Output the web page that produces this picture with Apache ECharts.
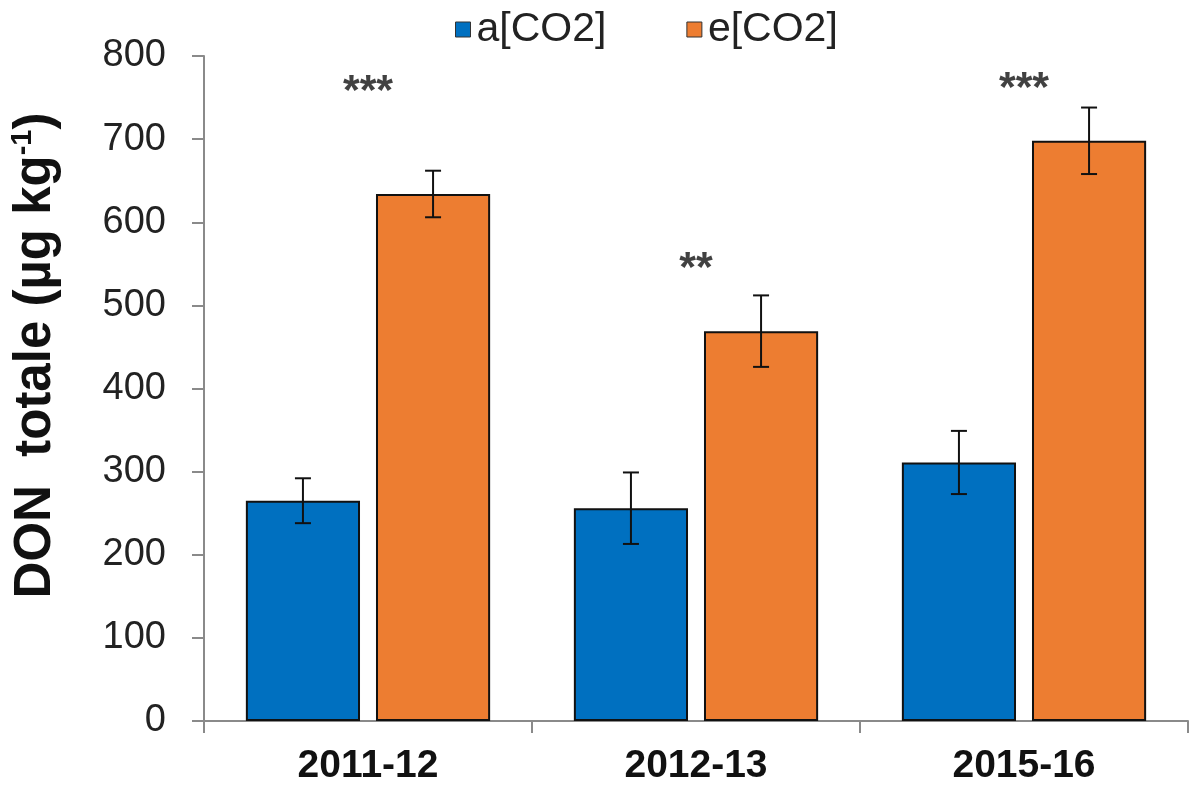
<!DOCTYPE html>
<html>
<head>
<meta charset="utf-8">
<script src="https://cdn.jsdelivr.net/npm/echarts@6/dist/echarts.min.js"></script>
<style>
  html, body { margin: 0; padding: 0; background: #ffffff; }
  #chart { width: 1192px; height: 795px; }
</style>
</head>
<body>
<div id="chart"></div>
<script>
// DON totale per season under ambient and elevated CO2
const categories = ['2011-12', '2012-13', '2015-16'];
const seriesNames = ['a[CO2]', 'e[CO2]'];
const ambientMean = [265, 256, 311];
const ambientErr = [27, 43, 38];
const elevatedMean = [634, 469, 698];
const elevatedErr = [28, 43, 40];
const significance = ['***', '**', '***'];
const significanceY = [757, 544, 760];
const yTicks = [0, 100, 200, 300, 400, 500, 600, 700, 800];

const BLUE = '#0070C0';
const ORANGE = '#ED7D31';
const FONT = '"Liberation Sans", Arial, sans-serif';

const chart = echarts.init(document.getElementById('chart'), null, { renderer: 'canvas' });

const BAR_FRACTION = 0.348;
const GAP_FRACTION = 0.14;

// error bar drawn as a vertical whisker with caps, offset onto its bar
function errorBarSeries(means, errs, seriesIndex) {
  const data = means.map((m, i) => [i, m - errs[i], m + errs[i]]);
  return {
    type: 'custom',
    name: seriesNames[seriesIndex] + ' err',
    z: 10,
    silent: true,
    renderItem: function (params, api) {
      const idx = api.value(0);
      const low = api.coord([idx, api.value(1)]);
      const high = api.coord([idx, api.value(2)]);
      const bandW = api.size([1, 0])[0];
      const barW = bandW * BAR_FRACTION;
      const gap = barW * GAP_FRACTION;
      const shift = (seriesIndex === 0 ? -1 : 1) * (barW + gap) / 2;
      const x = low[0] + shift;
      const cap = 8;
      const style = { stroke: '#111111', lineWidth: 2 };
      return {
        type: 'group',
        children: [
          { type: 'line', shape: { x1: x, y1: high[1], x2: x, y2: low[1] }, style: style },
          { type: 'line', shape: { x1: x - cap, y1: high[1], x2: x + cap, y2: high[1] }, style: style },
          { type: 'line', shape: { x1: x - cap, y1: low[1], x2: x + cap, y2: low[1] }, style: style }
        ]
      };
    },
    encode: { x: 0, y: [1, 2] },
    data: data
  };
}

const option = {
  backgroundColor: '#ffffff',
  animation: false,
  textStyle: { fontFamily: FONT },
  legend: {
    top: 4,
    left: 450,
    itemGap: 80,
    itemWidth: 15,
    itemHeight: 15,
    icon: 'rect',
    data: seriesNames,
    textStyle: { fontSize: 41, color: '#222', fontFamily: FONT, padding: [0, 0, 0, 1] },
    itemStyle: { borderColor: '#333', borderWidth: 1 }
  },
  grid: { left: 203, right: 4, top: 56, bottom: 74, containLabel: false },
  xAxis: {
    type: 'category',
    data: categories,
    axisLine: { lineStyle: { color: '#8a8a8a', width: 2 } },
    axisTick: { show: true, length: 12, lineStyle: { color: '#8a8a8a', width: 2 } },
    axisLabel: { fontSize: 39, fontWeight: 'bold', color: '#111', margin: 26, fontFamily: FONT },
    splitLine: { show: false }
  },
  yAxis: {
    type: 'value',
    min: yTicks[0],
    max: yTicks[yTicks.length - 1],
    interval: 100,
    axisLine: { show: true, lineStyle: { color: '#8a8a8a', width: 2 } },
    axisTick: { show: true, length: 12, lineStyle: { color: '#8a8a8a', width: 2 } },
    axisLabel: { fontSize: 38, color: '#222', margin: 38, fontFamily: FONT },
    splitLine: { show: false },
    name: '{t|DON  totale (µg kg}{s|-1}{t|)}',
    nameLocation: 'middle',
    nameGap: 140,
    nameRotate: 90,
    nameTextStyle: {
      padding: [0, 0, 0, 66],
      rich: {
        t: { fontSize: 51, fontWeight: 'bold', color: '#111', fontFamily: FONT, lineHeight: 56 },
        s: { fontSize: 29, fontWeight: 'bold', color: '#111', fontFamily: FONT, verticalAlign: 'top', lineHeight: 56 }
      }
    }
  },
  series: [
    {
      name: seriesNames[0],
      type: 'bar',
      data: ambientMean,
      barWidth: (BAR_FRACTION * 100) + '%',
      barGap: (GAP_FRACTION * 100) + '%',
      itemStyle: { color: BLUE, borderColor: '#111', borderWidth: 2 }
    },
    {
      name: seriesNames[1],
      type: 'bar',
      data: elevatedMean,
      barWidth: (BAR_FRACTION * 100) + '%',
      barGap: (GAP_FRACTION * 100) + '%',
      itemStyle: { color: ORANGE, borderColor: '#111', borderWidth: 2 }
    },
    errorBarSeries(ambientMean, ambientErr, 0),
    errorBarSeries(elevatedMean, elevatedErr, 1),
    {
      type: 'scatter',
      name: 'significance',
      symbolSize: 0,
      silent: true,
      data: significance.map((s, i) => ({ value: [i, significanceY[i]], label: { formatter: s } })),
      label: {
        show: true,
        position: 'inside',
        fontSize: 43,
        fontWeight: 'bold',
        color: '#111',
        fontFamily: FONT
      }
    }
  ]
};

chart.setOption(option);
</script>
</body>
</html>
